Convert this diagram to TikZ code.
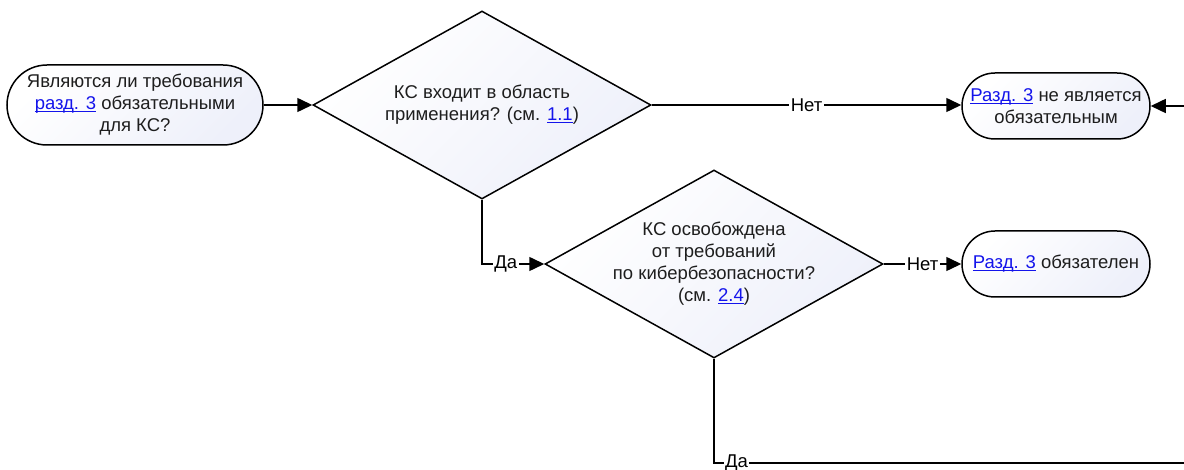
\documentclass[tikz,border=0pt]{standalone}
\usepackage{fontspec}
\setmainfont{Liberation Sans}
\usetikzlibrary{shapes.geometric,shapes.misc,arrows.meta}

\newcommand{\razdref}[1]{\textcolor{linkblue}{\setbox0\hbox{#1}\rlap{\rule[-2.5pt]{\wd0}{1.1pt}}\box0}}

\begin{document}
\begin{tikzpicture}[x=1pt, y=-1pt,
        font=\fontsize{18.5}{22}\selectfont,
        box/.style={draw=black, line width=1.5pt, top color=white, bottom color=boxshade, shading angle=45},
        terminal/.style={box, rounded rectangle, inner sep=0pt, align=center},
        decision/.style={box, diamond, inner sep=0pt, minimum width=338pt, minimum height=188pt},
        flow/.style={line width=1.5pt, -{Triangle[length=15pt, width=14pt]}},
        plainflow/.style={line width=1.5pt},
        answer/.style={fill=white, inner sep=1.5pt}]
            % Define the colors
            \definecolor{boxshade}{RGB}{238, 240, 250}
            \definecolor{linkblue}{RGB}{20, 20, 235}
            \definecolor{textgrey}{RGB}{30, 30, 30}

            \useasboundingbox (0,0) rectangle (1184,470);

            % Draw the start terminal
            \node[terminal, minimum width=256pt, minimum height=80pt, text=textgrey] (start) at (135,105) {Являются ли требования\\\razdref{разд. 3} обязательными\\для КС?};

            % Draw the first decision
            \node[decision] (scope) at (482,105) {};
            \node[align=center, text=textgrey] (scopetext) at (scope) {КС входит в область\\применения? (см. \razdref{1.1})};

            % Draw the second decision
            \node[decision] (exempt) at (714,264) {};
            \node[align=center, text=textgrey] (exempttext) at (exempt) {КС освобождена\\от требований\\по кибербезопасности?\\(см. \razdref{2.4})};

            % Draw the end terminals
            \node[terminal, minimum width=188pt, minimum height=66pt, text=textgrey] (notreq) at (1056,106) {\razdref{Разд. 3} не является\\обязательным};
            \node[terminal, minimum width=188pt, minimum height=66pt, text=textgrey] (req) at (1056,264) {\razdref{Разд. 3} обязателен};

            % Free ends at the right border
            \coordinate (rightin) at (1184,106);
            \coordinate (rightout) at (1184,463);

            % Draw the connectors
            \draw[flow] (start.east) -- (scope.west);
            \draw[flow] (scope.east) -- node[answer] {Нет} (notreq.west |- scope.east);
            \draw[flow] (rightin) -- (notreq.east);
            \draw[flow] (scope.south) |- node[answer, pos=0.69] {Да} (exempt.west);
            \draw[flow] (exempt.east) -- node[answer] {Нет} (req.west);
            \draw[plainflow] (exempt.south) |- node[answer, pos=0.524] {Да} (rightout);

        \end{tikzpicture}
\end{document}
